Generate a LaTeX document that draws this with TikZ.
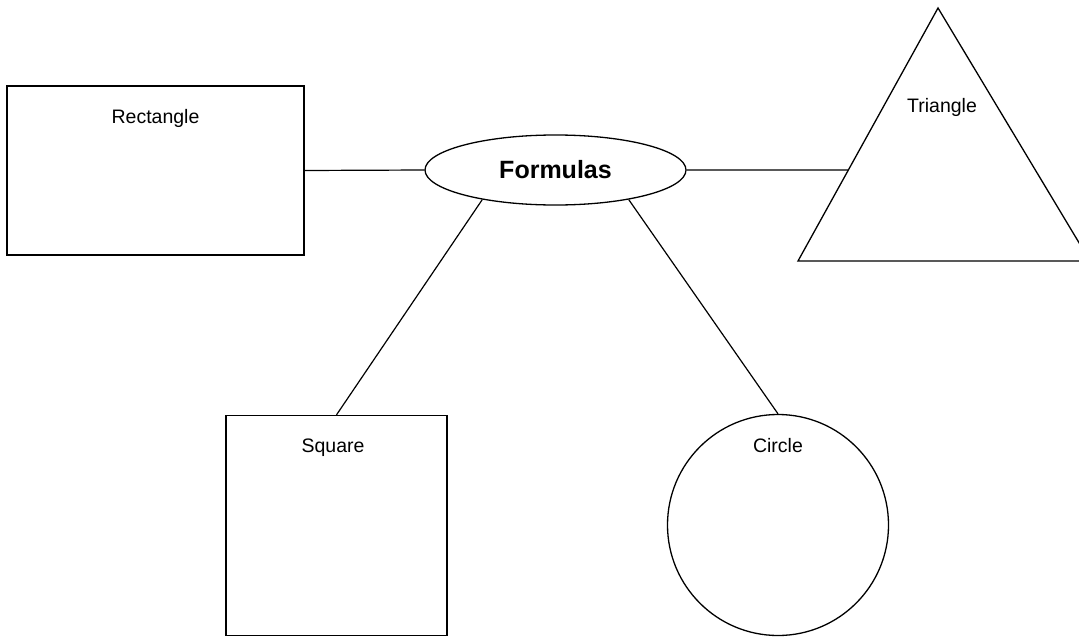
\documentclass[tikz,border=0pt]{standalone}
\usepackage{fontspec}
\setmainfont{Liberation Sans}
\usetikzlibrary{shapes.geometric,calc}
\begin{document}
\begin{tikzpicture}[x=1pt,y=-1pt,
  shapeline/.style={draw=black,line width=1.3pt},
  conn/.style={draw=black,line width=1.2pt},
  lbl/.style={anchor=base,inner sep=0pt,font=\fontsize{19.5}{22}\selectfont}]
\useasboundingbox (0,0) rectangle (1079,637);
% shapes
\node[shapeline,rectangle,minimum width=297pt,minimum height=169pt,inner sep=0pt] (rect) at (155.5,170.5) {};
\node[shapeline,ellipse,minimum width=261pt,minimum height=70pt,inner sep=0pt,font=\bfseries\fontsize{25}{28}\selectfont] (form) at (555.5,170) {Formulas};
\node[shapeline,rectangle,minimum width=221pt,minimum height=220pt,inner sep=0pt] (sq) at (336.5,525.5) {};
\node[shapeline,circle,minimum size=221pt,inner sep=0pt] (circ) at (778,525) {};
\coordinate (apex) at (938,8);
\coordinate (bl) at (798,261);
\coordinate (br) at (1090,261);
\draw[shapeline,line join=miter] (apex) -- (bl) -- (br) -- cycle;
\coordinate (tril) at ($(apex)!162/253!(bl)$);
% labels
\node[lbl] (rectt) at (155.5,123) {Rectangle};
\node[lbl] (trit) at (942,112) {Triangle};
\node[lbl] (sqt) at (333,452) {Square};
\node[lbl] (circt) at (778,452) {Circle};
% connectors
\draw[conn] (rect.east) -- (form.west);
\draw[conn] (form.east) -- (tril);
\draw[conn] (form.202) -- (sq.north);
\draw[conn] (form.338) -- (circ.north);
\end{tikzpicture}
\end{document}
